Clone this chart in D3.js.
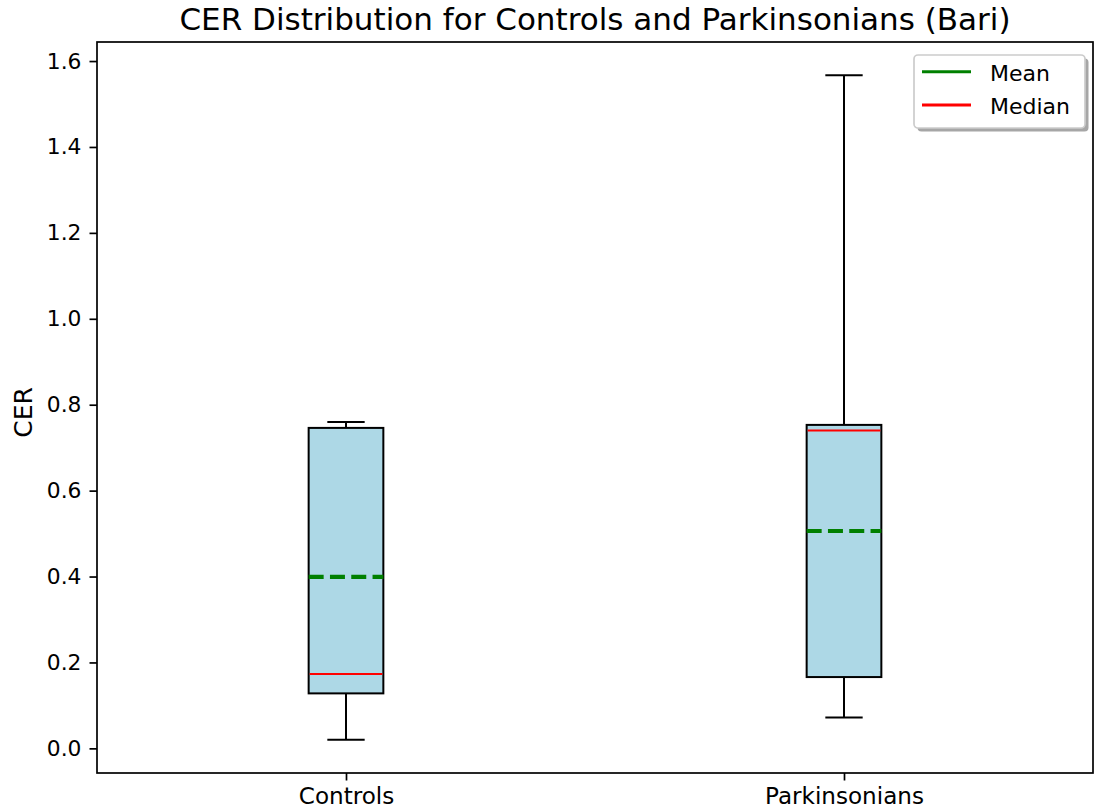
<!DOCTYPE html>
<html>
<head>
<meta charset="utf-8">
<script src="https://cdn.jsdelivr.net/npm/d3@7/dist/d3.min.js"></script>
<style>
  html, body { margin: 0; padding: 0; background: #fff; }
  svg { display: block; font-family: "DejaVu Sans", sans-serif; }
</style>
</head>
<body>
<svg id="chart" width="1094" height="810"></svg>
<script>
// Box plot summary per group
const groups       = ["Controls", "Parkinsonians"];
const whiskerLow   = [0.020, 0.072];
const q1           = [0.128, 0.166];
const median       = [0.173, 0.740];
const q3           = [0.746, 0.753];
const whiskerHigh  = [0.760, 1.567];
const mean         = [0.399, 0.506];
const yTicks       = [0.0, 0.2, 0.4, 0.6, 0.8, 1.0, 1.2, 1.4, 1.6];

const legendLabels = ["Mean", "Median"];
const legendColors = ["#008000", "#ff0000"];

const plot = { left: 97, right: 1093, top: 42, bottom: 773 };

const svg = d3.select("#chart");

// y limits padded by 5% of the data range
const lo = d3.min(whiskerLow), hi = d3.max(whiskerHigh);
const pad = (hi - lo) * 0.05;
const y = d3.scaleLinear().domain([lo - pad, hi + pad]).range([plot.bottom, plot.top]);
const x = d3.scaleLinear().domain([0.5, groups.length + 0.5]).range([plot.left, plot.right]);

const boxWidth = 0.15;
const capWidth = boxWidth / 2;

const data = groups.map((g, i) => ({
  name: g, pos: i + 1,
  lo: whiskerLow[i], q1: q1[i], med: median[i], q3: q3[i], hi: whiskerHigh[i], mean: mean[i]
}));

// Boxes
const g = svg.append("g");
data.forEach(d => {
  const cx = x(d.pos);
  const x0 = x(d.pos - boxWidth / 2), x1 = x(d.pos + boxWidth / 2);
  const c0 = x(d.pos - capWidth / 2), c1 = x(d.pos + capWidth / 2);
  const line = (xa, ya, xb, yb) => g.append("line")
    .attr("x1", xa).attr("y1", ya).attr("x2", xb).attr("y2", yb)
    .attr("stroke", "#000").attr("stroke-width", 2);
  // whiskers and caps
  line(cx, y(d.q1), cx, y(d.lo));
  line(cx, y(d.q3), cx, y(d.hi));
  line(c0, y(d.lo), c1, y(d.lo));
  line(c0, y(d.hi), c1, y(d.hi));
  // box
  g.append("rect")
    .attr("x", x0).attr("y", y(d.q3))
    .attr("width", x1 - x0).attr("height", y(d.q1) - y(d.q3))
    .attr("fill", "#add8e6").attr("stroke", "#000").attr("stroke-width", 2);
  // median
  g.append("line")
    .attr("x1", x0 + 1).attr("x2", x1 - 1)
    .attr("y1", y(d.med)).attr("y2", y(d.med))
    .attr("stroke", "#ff0000").attr("stroke-width", 2);
  // mean (dashed)
  g.append("line")
    .attr("x1", x0).attr("x2", x1)
    .attr("y1", y(d.mean)).attr("y2", y(d.mean))
    .attr("stroke", "#008000").attr("stroke-width", 4.2)
    .attr("stroke-dasharray", "15,6.3");
});

// Axes
const yAxis = d3.axisLeft(y).tickValues(yTicks).tickFormat(d3.format(".1f"))
  .tickSize(7.5).tickPadding(8);
const yg = svg.append("g").attr("transform", `translate(${plot.left},0)`).call(yAxis);
const xAxis = d3.axisBottom(x).tickValues(data.map(d => d.pos))
  .tickFormat((d, i) => groups[i]).tickSize(7.5).tickPadding(7);
const xg = svg.append("g").attr("transform", `translate(0,${plot.bottom})`).call(xAxis);

[yg, xg].forEach(a => {
  a.select(".domain").remove();
  a.selectAll(".tick line").attr("stroke", "#000").attr("stroke-width", 1.7);
  a.selectAll(".tick text").attr("fill", "#000").style("font-family", "DejaVu Sans");
});
yg.selectAll(".tick text").style("font-size", "21.8px");
xg.selectAll(".tick text").style("font-size", "23.1px").attr("dy", "0.72em");

// Frame
svg.append("rect")
  .attr("x", plot.left).attr("y", plot.top)
  .attr("width", plot.right - plot.left).attr("height", plot.bottom - plot.top)
  .attr("fill", "none").attr("stroke", "#000").attr("stroke-width", 1.7);

// Title
svg.append("text")
  .attr("x", (plot.left + plot.right) / 2).attr("y", 30)
  .attr("text-anchor", "middle")
  .style("font-size", "31px").attr("fill", "#000")
  .text("CER Distribution for Controls and Parkinsonians (Bari)");

// Y label
svg.append("text")
  .attr("transform", `translate(32,${(plot.top + plot.bottom) / 2 + 5}) rotate(-90)`)
  .attr("text-anchor", "middle")
  .style("font-size", "25px").attr("fill", "#000")
  .text("CER");

// Legend
const leg = { x: 914, y: 55, w: 171, h: 73 };
svg.append("rect")
  .attr("x", leg.x + 3.5).attr("y", leg.y + 3.5)
  .attr("width", leg.w).attr("height", leg.h).attr("rx", 4)
  .attr("fill", "#4d4d4d").attr("opacity", 0.5);
svg.append("rect")
  .attr("x", leg.x).attr("y", leg.y)
  .attr("width", leg.w).attr("height", leg.h).attr("rx", 4)
  .attr("fill", "#fff").attr("stroke", "#cccccc").attr("stroke-width", 1.7);
legendLabels.forEach((lab, i) => {
  const ly = 71.7 + i * 33.3;
  svg.append("line")
    .attr("x1", 922).attr("x2", 971).attr("y1", ly).attr("y2", ly)
    .attr("stroke", legendColors[i]).attr("stroke-width", 3);
  svg.append("text")
    .attr("x", 990).attr("y", ly + 9)
    .style("font-size", "22px").attr("fill", "#000")
    .text(lab);
});
</script>
</body>
</html>
